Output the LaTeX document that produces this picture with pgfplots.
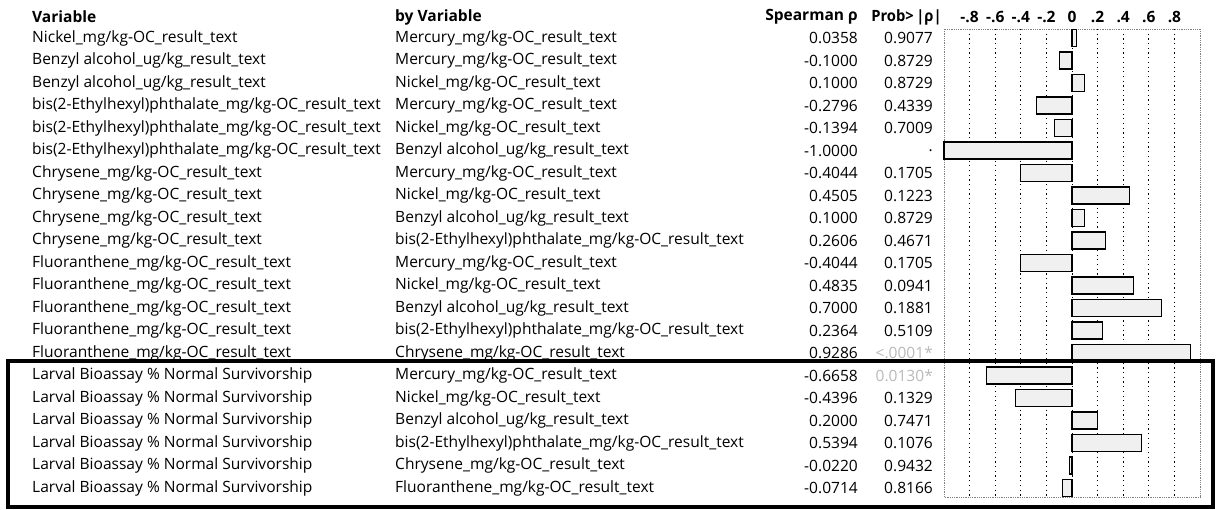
\documentclass[border=0pt]{standalone}
\usepackage{pgfplots}
\pgfplotsset{compat=1.18}
\usepackage{fontspec}
\setmainfont{Open Sans}
\newcommand{\tf}{\fontsize{15.6pt}{18pt}\selectfont}
\begin{document}
\begin{tikzpicture}[x=1bp,y=1bp]
\useasboundingbox (0,0) rectangle (1220,510);
\begin{axis}[
  at={(944bp,13bp)}, anchor=south west, scale only axis,
  width=256bp, height=468bp,
  xmin=-1, xmax=1, ymin=0.6, ymax=21.4, y dir=reverse,
  axis line style={gray, densely dotted, line width=0.8bp},
  xtick={-0.8,-0.6,-0.4,-0.2,0,0.2,0.4,0.6,0.8},
  xticklabels={-.8,-.6,-.4,-.2,0,.2,.4,.6,.8},
  xticklabel pos=upper,
  xticklabel style={font=\tf\bfseries, inner sep=0pt, yshift=6bp},
  major tick length=0pt,
  ytick=\empty,
  xmajorgrids,
  grid style={black, line width=0.9bp, dash pattern=on 1.2bp off 3.5bp},
  clip=false,
]
\addplot[xbar, bar width=17bp, bar shift=0pt, fill=gray!12, draw=black, line width=1.1bp]
coordinates {(0.0358,1) (-0.1000,2) (0.1000,3) (-0.2796,4) (-0.1394,5) (-1.0000,6)
(-0.4044,7) (0.4505,8) (0.1000,9) (0.2606,10) (-0.4044,11) (0.4835,12) (0.7000,13)
(0.2364,14) (0.9286,15) (-0.6658,16) (-0.4396,17) (0.2000,18) (0.5394,19) (-0.0220,20) (-0.0714,21)};

\addplot[only marks, mark=*, mark size=0pt, mark options={draw=none,fill=none},
  nodes near coords, point meta=explicit symbolic,
  every node near coord/.append style={anchor=west, inner sep=0pt, font=\tf, text=black}]
coordinates {
(-8.125,1) [Nickel\_mg/kg-OC\_result\_text]
(-8.125,2) [Benzyl alcohol\_ug/kg\_result\_text]
(-8.125,3) [Benzyl alcohol\_ug/kg\_result\_text]
(-8.125,4) [bis(2-Ethylhexyl)phthalate\_mg/kg-OC\_result\_text]
(-8.125,5) [bis(2-Ethylhexyl)phthalate\_mg/kg-OC\_result\_text]
(-8.125,6) [bis(2-Ethylhexyl)phthalate\_mg/kg-OC\_result\_text]
(-8.125,7) [Chrysene\_mg/kg-OC\_result\_text]
(-8.125,8) [Chrysene\_mg/kg-OC\_result\_text]
(-8.125,9) [Chrysene\_mg/kg-OC\_result\_text]
(-8.125,10) [Chrysene\_mg/kg-OC\_result\_text]
(-8.125,11) [Fluoranthene\_mg/kg-OC\_result\_text]
(-8.125,12) [Fluoranthene\_mg/kg-OC\_result\_text]
(-8.125,13) [Fluoranthene\_mg/kg-OC\_result\_text]
(-8.125,14) [Fluoranthene\_mg/kg-OC\_result\_text]
(-8.125,15) [Fluoranthene\_mg/kg-OC\_result\_text]
(-8.125,16) [Larval Bioassay \% Normal Survivorship]
(-8.125,17) [Larval Bioassay \% Normal Survivorship]
(-8.125,18) [Larval Bioassay \% Normal Survivorship]
(-8.125,19) [Larval Bioassay \% Normal Survivorship]
(-8.125,20) [Larval Bioassay \% Normal Survivorship]
(-8.125,21) [Larval Bioassay \% Normal Survivorship]
};

\addplot[only marks, mark=*, mark size=0pt, mark options={draw=none,fill=none},
  nodes near coords, point meta=explicit symbolic,
  every node near coord/.append style={anchor=west, inner sep=0pt, font=\tf, text=black}]
coordinates {
(-5.289,1) [Mercury\_mg/kg-OC\_result\_text]
(-5.289,2) [Mercury\_mg/kg-OC\_result\_text]
(-5.289,3) [Nickel\_mg/kg-OC\_result\_text]
(-5.289,4) [Mercury\_mg/kg-OC\_result\_text]
(-5.289,5) [Nickel\_mg/kg-OC\_result\_text]
(-5.289,6) [Benzyl alcohol\_ug/kg\_result\_text]
(-5.289,7) [Mercury\_mg/kg-OC\_result\_text]
(-5.289,8) [Nickel\_mg/kg-OC\_result\_text]
(-5.289,9) [Benzyl alcohol\_ug/kg\_result\_text]
(-5.289,10) [bis(2-Ethylhexyl)phthalate\_mg/kg-OC\_result\_text]
(-5.289,11) [Mercury\_mg/kg-OC\_result\_text]
(-5.289,12) [Nickel\_mg/kg-OC\_result\_text]
(-5.289,13) [Benzyl alcohol\_ug/kg\_result\_text]
(-5.289,14) [bis(2-Ethylhexyl)phthalate\_mg/kg-OC\_result\_text]
(-5.289,15) [Chrysene\_mg/kg-OC\_result\_text]
(-5.289,16) [Mercury\_mg/kg-OC\_result\_text]
(-5.289,17) [Nickel\_mg/kg-OC\_result\_text]
(-5.289,18) [Benzyl alcohol\_ug/kg\_result\_text]
(-5.289,19) [bis(2-Ethylhexyl)phthalate\_mg/kg-OC\_result\_text]
(-5.289,20) [Chrysene\_mg/kg-OC\_result\_text]
(-5.289,21) [Fluoranthene\_mg/kg-OC\_result\_text]
};

\addplot[only marks, mark=*, mark size=0pt, mark options={draw=none,fill=none},
  nodes near coords, point meta=explicit symbolic,
  every node near coord/.append style={anchor=east, inner sep=0pt, font=\tf, text=black}]
coordinates {
(-1.672,1) [0.0358] (-1.672,2) [-0.1000] (-1.672,3) [0.1000] (-1.672,4) [-0.2796]
(-1.672,5) [-0.1394] (-1.672,6) [-1.0000] (-1.672,7) [-0.4044] (-1.672,8) [0.4505]
(-1.672,9) [0.1000] (-1.672,10) [0.2606] (-1.672,11) [-0.4044] (-1.672,12) [0.4835]
(-1.672,13) [0.7000] (-1.672,14) [0.2364] (-1.672,15) [0.9286] (-1.672,16) [-0.6658]
(-1.672,17) [-0.4396] (-1.672,18) [0.2000] (-1.672,19) [0.5394] (-1.672,20) [-0.0220]
(-1.672,21) [-0.0714]
};

\addplot[only marks, mark=*, mark size=0pt, mark options={draw=none,fill=none},
  nodes near coords, point meta=explicit symbolic,
  every node near coord/.append style={anchor=east, inner sep=0pt, font=\tf, text=black}]
coordinates {
(-1.086,1) [0.9077] (-1.086,2) [0.8729] (-1.086,3) [0.8729] (-1.086,4) [0.4339]
(-1.086,5) [0.7009] (-1.086,6) [.] (-1.086,7) [0.1705] (-1.086,8) [0.1223]
(-1.086,9) [0.8729] (-1.086,10) [0.4671] (-1.086,11) [0.1705] (-1.086,12) [0.0941]
(-1.086,13) [0.1881] (-1.086,14) [0.5109]
(-1.086,17) [0.1329] (-1.086,18) [0.7471] (-1.086,19) [0.1076] (-1.086,20) [0.9432]
(-1.086,21) [0.8166]
};

\addplot[only marks, mark=*, mark size=0pt, mark options={draw=none,fill=none},
  nodes near coords, point meta=explicit symbolic,
  every node near coord/.append style={anchor=east, inner sep=0pt, font=\tf, text=gray!55}]
coordinates {(-1.086,15) [<.0001*] (-1.086,16) [0.0130*]};

\node[anchor=west, inner sep=0pt, font=\tf\bfseries] at (axis cs:-8.125,0.07) {Variable};
\node[anchor=west, inner sep=0pt, font=\tf\bfseries] at (axis cs:-5.289,0.07) {by Variable};
\node[anchor=west, inner sep=0pt, font=\tf\bfseries] at (axis cs:-2.398,0.07) {Spearman ρ};
\node[anchor=west, inner sep=0pt, font=\tf\bfseries] at (axis cs:-1.570,0.07) {\scalebox{0.95}[1]{Prob>\,|ρ|}};

\draw[line width=3.5bp, black] (axis cs:-8.3125,15.36) rectangle (axis cs:1.1016,21.84);
\end{axis}
\end{tikzpicture}
\end{document}
